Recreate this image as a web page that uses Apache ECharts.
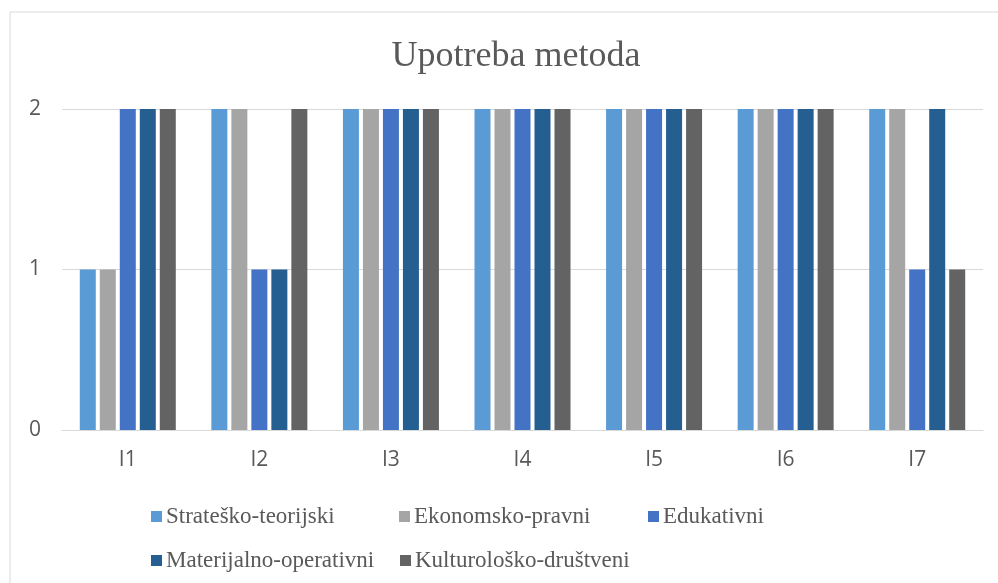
<!DOCTYPE html>
<html>
<head>
<meta charset="utf-8">
<script src="https://cdn.jsdelivr.net/npm/echarts@6/dist/echarts.min.js"></script>
<style>
  html, body { margin: 0; padding: 0; background: #fff; }
  #chart { width: 998px; height: 583px; }
</style>
</head>
<body>
<div id="chart"></div>
<script>
// kategorije i serije
const categories = ['I1', 'I2', 'I3', 'I4', 'I5', 'I6', 'I7']
const seriesNames = ['Strateško-teorijski', 'Ekonomsko-pravni', 'Edukativni', 'Materijalno-operativni', 'Kulturološko-društveni']
const stratesko = [1, 2, 2, 2, 2, 2, 2]
const ekonomsko = [1, 2, 2, 2, 2, 2, 2]
const edukativni = [2, 1, 2, 2, 2, 2, 1]
const materijalno = [2, 1, 2, 2, 2, 2, 2]
const kulturolosko = [2, 2, 2, 2, 2, 2, 1]
const yTicks = [0, 1, 2]

const colors = ['#5B9BD5', '#A5A5A5', '#4472C4', '#255E91', '#636363']
const values = [stratesko, ekonomsko, edukativni, materijalno, kulturolosko]

const serif = '"Liberation Serif", "DejaVu Serif", serif'
const sans = '"Open Sans", "Liberation Sans", sans-serif'
const textColor = '#595959'

// pozicije legendi (kolone kao u Excelu, dva reda)
const legendPos = [
  { left: 146, top: 500 },
  { left: 394, top: 500 },
  { left: 643, top: 500 },
  { left: 146, top: 544 },
  { left: 395, top: 544 }
]

const chart = echarts.init(document.getElementById('chart'), null, { renderer: 'canvas' })

chart.setOption({
  animation: false,
  color: colors,
  graphic: [{
    type: 'rect',
    shape: { x: 10, y: 12, width: 1000, height: 600 },
    style: { fill: 'none', stroke: '#D9D9D9', lineWidth: 1 }
  }],
  title: {
    text: 'Upotreba metoda',
    left: 511,
    top: 34,
    textAlign: 'center',
    textStyle: {
      fontFamily: serif,
      fontSize: 36,
      fontWeight: 'normal',
      color: textColor
    }
  },
  legend: seriesNames.map((name, i) => ({
    data: [name],
    left: legendPos[i].left,
    top: legendPos[i].top,
    icon: 'rect',
    itemWidth: 11,
    itemHeight: 11,
    itemGap: 0,
    textStyle: { fontFamily: serif, fontSize: 23, color: textColor, padding: [0, 0, 0, -1] }
  })),
  grid: {
    left: 62,
    right: 15,
    top: 109,
    bottom: 583 - 430,
    containLabel: false
  },
  xAxis: {
    type: 'category',
    data: categories,
    axisLine: { lineStyle: { color: '#D9D9D9', width: 1 } },
    axisTick: { show: false },
    axisLabel: { color: textColor, fontFamily: sans, fontSize: 21, margin: 20 }
  },
  yAxis: {
    type: 'value',
    min: yTicks[0],
    max: yTicks[yTicks.length - 1],
    interval: 1,
    axisLine: { show: false },
    axisTick: { show: false },
    splitLine: { lineStyle: { color: '#D9D9D9', width: 1 } },
    axisLabel: { color: textColor, fontFamily: sans, fontSize: 21, margin: 21 }
  },
  series: seriesNames.map((name, i) => ({
    name: name,
    type: 'bar',
    data: values[i],
    barWidth: 16,
    barGap: '25%',
    itemStyle: { color: colors[i] }
  }))
})
</script>
</body>
</html>
